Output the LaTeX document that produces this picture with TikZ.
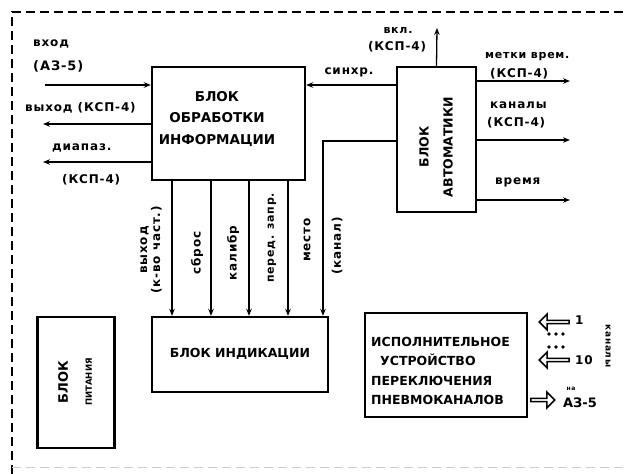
\documentclass[tikz,border=0pt]{standalone}
\usepackage{fontspec}
\setmainfont{DejaVu Sans}
\newfontfamily\lblfont[LetterSpace=7]{DejaVu Sans}
\usetikzlibrary{arrows.meta,positioning,shapes.arrows}
\tikzset{
  blk/.style={draw,line width=2.4pt,inner sep=0pt},
  blktext/.style={font=\fontsize{12.5}{21}\selectfont\bfseries,align=center,inner sep=0pt},
  lbl/.style={font=\lblfont\fontsize{12}{15}\selectfont\bfseries,inner sep=0pt,align=center},
  vlbl/.style={font=\lblfont\fontsize{12}{13}\selectfont\bfseries,inner sep=0pt,align=center,rotate=90},
  sig/.style={-{Stealth[length=7pt,width=5.5pt]},line width=1.3pt},
  hollow/.style={single arrow,draw,line width=1.6pt,minimum width=16pt,minimum height=30pt,
    single arrow head extend=3pt,inner sep=0pt},
  frame/.style={line width=1.5pt,dash pattern=on 9pt off 5pt},
}

\begin{document}
\begin{tikzpicture}[x=1pt,y=-1pt]
  \useasboundingbox (0,0) rectangle (625,474);
  \draw[frame] (12,474) -- (12,12) -- (625,12);
  \draw[frame,gray!40,line width=1pt] (12,467) -- (625,467);

  % blocks
  \node[blk,minimum width=153pt,minimum height=113pt] (proc) at (228.5,123.5) {};
  \node[blk,minimum width=79pt,minimum height=145pt] (auto) at (436.5,139.5) {};
  \node[blk,minimum width=176pt,minimum height=75pt] (ind) at (240,354.5) {};
  \node[blk,minimum width=77pt,minimum height=131pt] (pow) at (76,382.5) {};
  \node[blk,minimum width=162pt,minimum height=104pt] (exec) at (446,365) {};

  \node[blktext,font=\fontsize{13.5}{21.5}\selectfont\bfseries] (proctxt) at (217,119) {БЛОК\\ОБРАБОТКИ\\ИНФОРМАЦИИ};
  \node[blktext,rotate=90,font=\fontsize{12.5}{24}\selectfont\bfseries] (autotxt) at (436,147) {БЛОК\\АВТОМАТИКИ};
  \node[blktext] (indtxt) at (240,354) {БЛОК ИНДИКАЦИИ};
  \node[blktext,rotate=90,font=\fontsize{13}{24}\selectfont\bfseries] (powtxt) at (75,382)
    {БЛОК\\{\fontsize{8.5}{11}\selectfont ПИТАНИЯ}};
  \node[blktext,align=left,anchor=west,font=\fontsize{12.5}{19.5}\selectfont\bfseries] (exectxt) at (371,371)
    {ИСПОЛНИТЕЛЬНОЕ\\\hspace{9pt}УСТРОЙСТВО\\ПЕРЕКЛЮЧЕНИЯ\\ПНЕВМОКАНАЛОВ};

  % free ends
  \coordinate (inA) at (45,85);
  \coordinate (outA) at (43,124);
  \coordinate (outB) at (43,162);
  \coordinate (vkl) at (437,28);
  \coordinate (mark) at (570,81);
  \coordinate (chan) at (570,140);
  \coordinate (time) at (570,200);
  \coordinate (sync) at (0,85);
  \coordinate (kan) at (323,141);
  \coordinate (d1) at (172,0);
  \coordinate (d2) at (211,0);
  \coordinate (d3) at (249,0);
  \coordinate (d4) at (288,0);

  % left side
  \draw[sig] (inA) -- (proc.west |- inA);
  \draw[sig] (proc.west |- outA) -- (outA);
  \draw[sig] (proc.west |- outB) -- (outB);
  \node[lbl,anchor=west] (inlbl) at (33,44) {вход};
  \node[lbl,anchor=west,font=\lblfont\fontsize{13}{15}\selectfont\bfseries] (inlbl2) at (33,66) {(АЗ-5)};
  \node[lbl,anchor=west] (outlbl) at (25,108) {выход (КСП-4)};
  \node[lbl,anchor=west] (rnglbl) at (52,148) {диапаз.};
  \node[lbl,anchor=west] (rnglbl2) at (62,180) {(КСП-4)};

  % automatics
  \draw[sig] (auto.west |- sync) -- (proc.east |- sync);
  \node[lbl] (synclbl) at (349,72) {синхр.};
  \draw[sig] (auto.north) -- (vkl);
  \node[lbl,font=\lblfont\fontsize{11}{15}\selectfont\bfseries] (vkllbl) at (398,30) {вкл.};
  \node[lbl] (vkllbl2) at (397,47) {(КСП-4)};
  \draw[sig] (auto.east |- mark) -- (mark);
  \draw[sig] (auto.east |- chan) -- (chan);
  \draw[sig] (auto.east |- time) -- (time);
  \node[lbl,anchor=west,font=\lblfont\fontsize{11}{15}\selectfont\bfseries] (marklbl) at (485,57) {метки врем.};
  \node[lbl,anchor=west] (marklbl2) at (490,74) {(КСП-4)};
  \node[lbl,anchor=west] (chanlbl) at (490,105) {каналы};
  \node[lbl,anchor=west] (chanlbl2) at (487,123) {(КСП-4)};
  \node[lbl,anchor=west] (timelbl) at (495,182) {время};

  % to indication
  \draw[sig] (proc.south -| d1) -- (ind.north -| d1);
  \draw[sig] (proc.south -| d2) -- (ind.north -| d2);
  \draw[sig] (proc.south -| d3) -- (ind.north -| d3);
  \draw[sig] (proc.south -| d4) -- (ind.north -| d4);
  \draw[sig] (auto.west |- kan) -- (kan) -- (ind.north -| kan);
  \node[vlbl] (cntlbl) at (151,250) {выход\\(к-во част.)};
  \node[vlbl] (rstlbl) at (197,253) {сброс};
  \node[vlbl] (callbl) at (233,253) {калибр};
  \node[vlbl,font=\lblfont\fontsize{11}{13}\selectfont\bfseries] (reqlbl) at (272,238) {перед. запр.};
  \node[vlbl] (poslbl) at (307,240) {место};
  \node[vlbl] (kanlbl) at (337,246) {(канал)};

  % pneumatic channels
  \node[hollow,shape border rotate=180] (ch1) at (555,322) {};
  \node[hollow,shape border rotate=180] (ch10) at (555,360) {};
  \node[hollow,minimum height=24pt] (toaz) at (542,400) {};
  \node[lbl,anchor=west] (ch1lbl) at (575,320) {1};
  \node[lbl,anchor=west] (ch10lbl) at (575,360) {10};
  \foreach \yy in {334,347}{
    \foreach \xx in {549,556,563}{
      \fill (\xx,\yy) circle (1.8pt);
    }
  }
  \node[lbl,font=\lblfont\fontsize{6}{7}\selectfont\bfseries] (tolbl) at (571,389) {на};
  \node[lbl,font=\fontsize{13}{15}\selectfont\bfseries] (tolbl2) at (580,403) {АЗ-5};
  \node[lbl,rotate=-90,font=\lblfont\fontsize{9}{11}\selectfont\bfseries] (chlbl) at (608,346) {каналы};
\end{tikzpicture}
\end{document}
